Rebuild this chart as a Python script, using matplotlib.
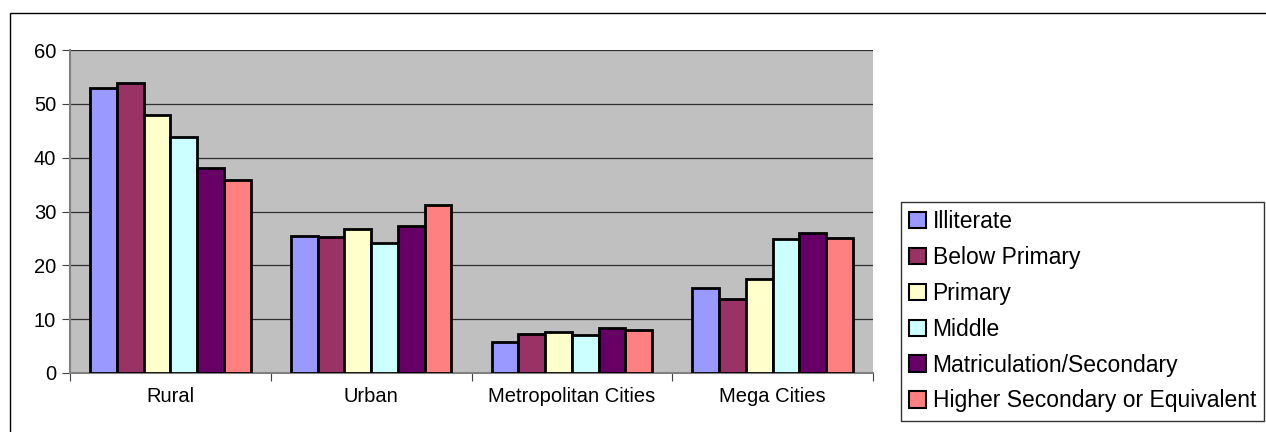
import matplotlib.pyplot as plt
from matplotlib.patches import Rectangle
import numpy as np

plt.rcParams['font.family'] = ['Liberation Sans', 'DejaVu Sans']

categories = ["Rural", "Urban", "Metropolitan Cities", "Mega Cities"]
series = ["Illiterate", "Below Primary", "Primary", "Middle",
          "Matriculation/Secondary", "Higher Secondary or Equivalent"]
illiterate = [53.0, 25.5, 5.8, 15.7]
below_primary = [53.9, 25.3, 7.2, 13.8]
primary = [48.0, 26.8, 7.6, 17.5]
middle = [43.9, 24.2, 7.1, 24.8]
matric = [38.1, 27.3, 8.4, 26.0]
higher_sec = [35.9, 31.2, 7.9, 25.0]
values = [illiterate, below_primary, primary, middle, matric, higher_sec]
colors = ["#9999FF", "#993366", "#FFFFCC", "#CCFFFF", "#660066", "#FF8080"]

fig = plt.figure(figsize=(12.66, 4.32), dpi=100)
ax = fig.add_axes([70 / 1266, 1 - 373 / 432, 803 / 1266, 323 / 432])
ax.set_facecolor("#C0C0C0")

x = np.arange(len(categories))
w = 0.8 / len(series)
for i, (name, vals) in enumerate(zip(series, values)):
    ax.bar(x - 0.4 + w * (i + 0.5), vals, width=w, color=colors[i],
           edgecolor="black", linewidth=2.0, label=name, zorder=3)

ax.set_xlim(-0.5, 3.5)
ax.set_ylim(0, 60)
ax.set_yticks(range(0, 61, 10))
ax.yaxis.grid(True, color="#303030", linewidth=0.9)
ax.set_axisbelow(True)

ax.set_xticks(np.arange(-0.5, 4, 1))
ax.set_xticklabels([])
ax.set_xticks(x, minor=True)
ax.set_xticklabels(categories, minor=True)
ax.tick_params(axis="x", which="minor", length=0, pad=10, labelsize=14.5)
ax.tick_params(axis="x", which="major", length=6, direction="out", color="#404040")
ax.tick_params(axis="y", length=6, direction="out", labelsize=14.5, color="#404040", pad=4)

for s in ["top", "right"]:
    ax.spines[s].set_visible(False)
ax.spines["left"].set_color("#808080")
ax.spines["left"].set_linewidth(1.5)
ax.spines["bottom"].set_color("#808080")
ax.spines["bottom"].set_linewidth(1.5)

leg = fig.legend(loc="upper left", bbox_to_anchor=(901 / 1266, 1 - 202 / 432),
                 fontsize=16.5, frameon=True, fancybox=False, handlelength=0.72,
                 handleheight=0.72, handletextpad=0.3, labelspacing=0.56,
                 borderpad=0.36, borderaxespad=0)
leg.get_frame().set_edgecolor("black")
leg.get_frame().set_linewidth(1.0)
for h in leg.legend_handles:
    h.set_linewidth(1.5)

fig.patches.append(Rectangle((10 / 1266, -0.1), 1.2, 1.1 - 13 / 432,
                             transform=fig.transFigure, fill=False,
                             edgecolor="black", linewidth=1.0, zorder=-1))

fig.savefig("out.png", dpi=100)
